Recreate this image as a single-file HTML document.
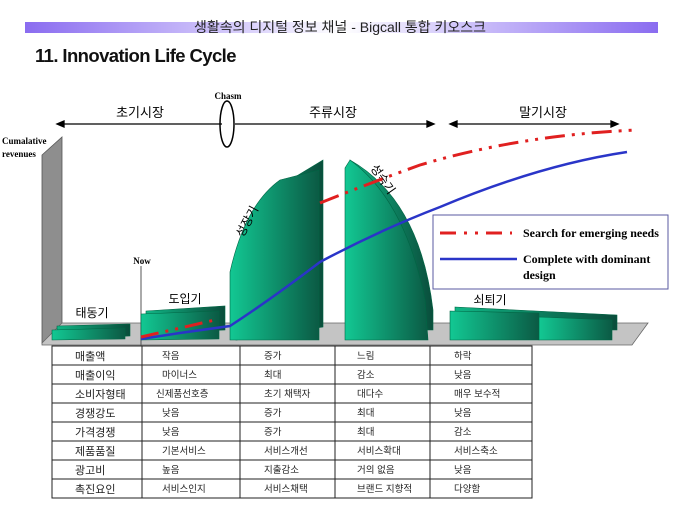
<!DOCTYPE html>
<html><head><meta charset="utf-8"><style>
body{margin:0;background:#fff;}
svg{display:block;font-family:"Liberation Sans","Noto Sans CJK KR",sans-serif;}
</style></head><body>
<svg width="680" height="510" viewBox="0 0 680 510" xmlns="http://www.w3.org/2000/svg">
<defs>
<linearGradient id="hb" x1="0" x2="1" y1="0" y2="0">
<stop offset="0" stop-color="#8a6cf0"/><stop offset="0.35" stop-color="#d9d0fb"/><stop offset="0.5" stop-color="#ffffff"/><stop offset="0.65" stop-color="#d9d0fb"/><stop offset="1" stop-color="#8a6cf0"/>
</linearGradient>
<linearGradient id="gr" x1="0" x2="1" y1="0" y2="0">
<stop offset="0" stop-color="#12c893"/><stop offset="1" stop-color="#0b5a44"/>
</linearGradient>
<linearGradient id="gr2" x1="0" x2="1" y1="0" y2="0">
<stop offset="0" stop-color="#10b585"/><stop offset="1" stop-color="#0a4d3b"/>
</linearGradient>
</defs>
<rect x="25" y="22" width="633" height="11" fill="url(#hb)"/>
<text x="340" y="32" font-size="14" text-anchor="middle" fill="#222">생활속의 디지털 정보 채널 - Bigcall 통합 키오스크</text>
<text x="35" y="62" font-size="18.5" font-weight="bold" fill="#111" letter-spacing="-0.6">11. Innovation Life Cycle</text>

<g stroke="#000" stroke-width="1.3" fill="#000">
<line x1="60" y1="124" x2="222" y2="124"/><polygon points="57,124 64,121 64,127"/>
<line x1="235" y1="124" x2="430" y2="124"/><polygon points="434,124 427,121 427,127"/>
<line x1="453" y1="124" x2="614" y2="124"/><polygon points="450,124 457,121 457,127"/><polygon points="618,124 611,121 611,127"/>
</g>
<ellipse cx="227" cy="124" rx="7" ry="23" fill="none" stroke="#000" stroke-width="1.5"/>
<text x="228" y="99" font-size="9" font-weight="bold" text-anchor="middle" font-family="Liberation Serif,serif">Chasm</text>
<text x="140" y="117" font-size="13" text-anchor="middle">초기시장</text>
<text x="333" y="117" font-size="13" text-anchor="middle">주류시장</text>
<text x="543" y="117" font-size="13" text-anchor="middle">말기시장</text>

<polygon points="42,155 62,137 62,325 42,343" fill="#8e8e8e" stroke="#555" stroke-width="0.8"/>
<polygon points="42,343 62,323 648,323 632,345 42,345" fill="#c4c4c4" stroke="#666" stroke-width="0.8"/>
<text x="2" y="144" font-size="9" font-weight="bold" font-family="Liberation Serif,serif">Cumalative</text>
<text x="2" y="157" font-size="9" font-weight="bold" font-family="Liberation Serif,serif">revenues</text>

<polygon points="57,326 130,324 130,336 57,338" fill="url(#gr2)" stroke="#064" stroke-width="0.6"/>
<polygon points="52,330 125,328 125,339 52,340" fill="url(#gr)" stroke="#064" stroke-width="0.6"/>
<text x="92" y="317" font-size="12" text-anchor="middle">태동기</text>
<line x1="141" y1="266" x2="141" y2="346" stroke="#555" stroke-width="1"/>
<text x="142" y="264" font-size="9" font-weight="bold" text-anchor="middle" font-family="Liberation Serif,serif">Now</text>
<polygon points="146,311 225,306 225,330 146,333" fill="url(#gr2)" stroke="#064" stroke-width="0.6"/>
<polygon points="141,314 219,311 219,339 141,340" fill="url(#gr)" stroke="#064" stroke-width="0.6"/>
<text x="185" y="303" font-size="12" text-anchor="middle">도입기</text>
<path d="M236,340 L236,270 Q250,210 290,180 L323,160 L323,327 Z" fill="url(#gr2)" stroke="#064" stroke-width="0.6"/>
<path d="M230,340 L230,272 Q245,205 280,180 L319,170 L319,340 Z" fill="url(#gr)" stroke="#064" stroke-width="0.6"/>
<text x="0" y="0" font-size="12" transform="translate(243,238) rotate(-62)">성장기</text>
<path d="M350,160 Q420,200 433,310 L433,330 L360,330 Z" fill="url(#gr2)" stroke="#064" stroke-width="0.6"/>
<path d="M345,340 L345,168 L350,160 Q405,200 425,300 L428,340 Z" fill="url(#gr)" stroke="#064" stroke-width="0.6"/>
<text x="0" y="0" font-size="12" transform="translate(370,168) rotate(55)">성숙기</text>
<polygon points="455,307 617,315 617,330 455,330" fill="url(#gr2)" stroke="#064" stroke-width="0.6"/>
<polygon points="450,311 539,313 539,340 450,340" fill="url(#gr)" stroke="#064" stroke-width="0.6"/>
<polygon points="539,317 612,320 612,340 539,340" fill="url(#gr)" stroke="#064" stroke-width="0.6"/>
<text x="490" y="304" font-size="12" text-anchor="middle">쇠퇴기</text>

<path d="M141,339 L180,333 L230,326 Q270,300 320,262 Q380,230 440,207 Q540,165 627,152" fill="none" stroke="#2a35c8" stroke-width="2.5"/>
<path d="M141,337 L215,320" fill="none" stroke="#e02020" stroke-width="3" stroke-dasharray="18,7,3,7,3,7"/>
<path d="M320,203 Q370,183 420,165 Q520,135 637,130" fill="none" stroke="#e02020" stroke-width="3" stroke-dasharray="20,7,3,7,3,7"/>

<rect x="433" y="215" width="235" height="74" fill="#fff" stroke="#5a5aa0" stroke-width="1"/>
<line x1="440" y1="233" x2="512" y2="233" stroke="#e02020" stroke-width="3" stroke-dasharray="16,8,3,8,3,8"/>
<line x1="440" y1="259" x2="517" y2="259" stroke="#2a35c8" stroke-width="2.5"/>
<g font-family="Liberation Serif,serif" font-size="12" font-weight="bold">
<text x="523" y="237">Search for emerging needs</text>
<text x="523" y="263">Complete with dominant</text>
<text x="523" y="279">design</text>
</g>

<g stroke="#222" stroke-width="1" fill="none">
<rect x="52" y="346" width="480" height="152"/>
<line x1="142" y1="346" x2="142" y2="498"/><line x1="240" y1="346" x2="240" y2="498"/>
<line x1="335" y1="346" x2="335" y2="498"/><line x1="430" y1="346" x2="430" y2="498"/>
<line x1="52" y1="365" x2="532" y2="365"/><line x1="52" y1="384" x2="532" y2="384"/>
<line x1="52" y1="403" x2="532" y2="403"/><line x1="52" y1="422" x2="532" y2="422"/>
<line x1="52" y1="441" x2="532" y2="441"/><line x1="52" y1="460" x2="532" y2="460"/>
<line x1="52" y1="479" x2="532" y2="479"/>
</g>
<g font-size="11" fill="#222">
<text x="75" y="360">매출액</text><text x="162" y="359" font-size="9.5">작음</text><text x="264" y="359" font-size="9.5">증가</text><text x="357" y="359" font-size="9.5">느림</text><text x="454" y="359" font-size="9.5">하락</text>
<text x="75" y="379">매출이익</text><text x="162" y="378" font-size="9.5">마이너스</text><text x="264" y="378" font-size="9.5">최대</text><text x="357" y="378" font-size="9.5">감소</text><text x="454" y="378" font-size="9.5">낮음</text>
<text x="75" y="398">소비자형태</text><text x="156" y="397" font-size="9.5">신제품선호층</text><text x="264" y="397" font-size="9.5">초기 채택자</text><text x="357" y="397" font-size="9.5">대다수</text><text x="454" y="397" font-size="9.5">매우 보수적</text>
<text x="75" y="417">경쟁강도</text><text x="162" y="416" font-size="9.5">낮음</text><text x="264" y="416" font-size="9.5">증가</text><text x="357" y="416" font-size="9.5">최대</text><text x="454" y="416" font-size="9.5">낮음</text>
<text x="75" y="436">가격경쟁</text><text x="162" y="435" font-size="9.5">낮음</text><text x="264" y="435" font-size="9.5">증가</text><text x="357" y="435" font-size="9.5">최대</text><text x="454" y="435" font-size="9.5">감소</text>
<text x="75" y="455">제품품질</text><text x="162" y="454" font-size="9.5">기본서비스</text><text x="264" y="454" font-size="9.5">서비스개선</text><text x="357" y="454" font-size="9.5">서비스확대</text><text x="454" y="454" font-size="9.5">서비스축소</text>
<text x="75" y="474">광고비</text><text x="162" y="473" font-size="9.5">높음</text><text x="264" y="473" font-size="9.5">지출감소</text><text x="357" y="473" font-size="9.5">거의 없음</text><text x="454" y="473" font-size="9.5">낮음</text>
<text x="75" y="493">촉진요인</text><text x="162" y="492" font-size="9.5">서비스인지</text><text x="264" y="492" font-size="9.5">서비스채택</text><text x="357" y="492" font-size="9.5">브랜드 지향적</text><text x="454" y="492" font-size="9.5">다양함</text>
</g>
</svg>
</body></html>
